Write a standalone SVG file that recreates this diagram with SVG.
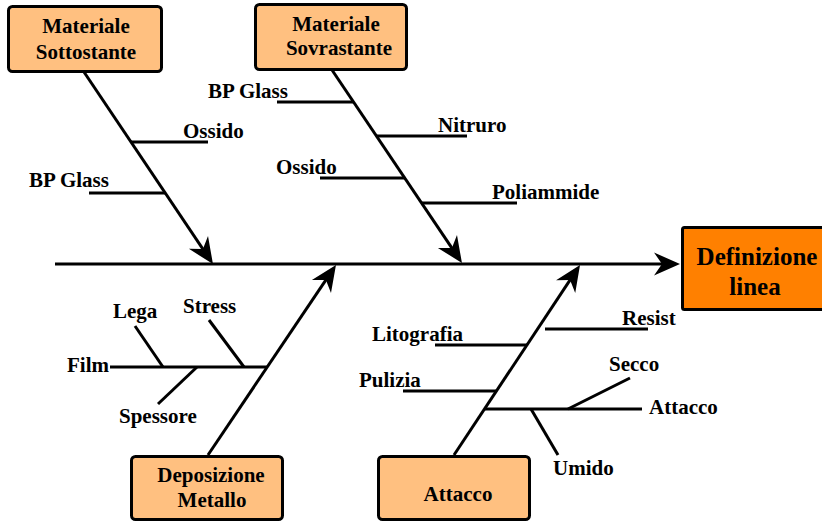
<svg xmlns="http://www.w3.org/2000/svg" width="822" height="521" viewBox="0 0 822 521">
<style>
.box{fill:#FFC080;stroke:#000;stroke-width:3}
.main{fill:#FF8000;stroke:#000;stroke-width:3}
.t{font-family:"Liberation Serif","Times New Roman",serif;font-weight:bold;font-size:21px;fill:#000}
.bt{text-anchor:middle}
.big{font-size:25px;text-anchor:middle}
.ln{stroke:#000;stroke-width:3;fill:none}
</style>
<defs>
<marker id="ah" markerUnits="userSpaceOnUse" markerWidth="40" markerHeight="30" viewBox="-20 -15 40 30" refX="0" refY="0" orient="auto" overflow="visible">
<path d="M8,0 L-18,-11.5 L-10,0 L-18,11.5 Z" fill="#000"/>
</marker>
</defs>
<rect width="822" height="521" fill="#fff"/>
<g id="connectors">
<line class="ln" x1="55" y1="264" x2="672" y2="264" marker-end="url(#ah)"/>
<line class="ln" x1="84" y1="72" x2="208.5" y2="257.4" marker-end="url(#ah)"/>
<line class="ln" x1="332" y1="70" x2="457.5" y2="256.4" marker-end="url(#ah)"/>
<line class="ln" x1="208" y1="455" x2="331.5" y2="271.6" marker-end="url(#ah)"/>
<line class="ln" x1="454" y1="455" x2="575.6" y2="271.7" marker-end="url(#ah)"/>
<line class="ln" x1="131" y1="142" x2="208" y2="142"/>
<line class="ln" x1="89" y1="193" x2="165" y2="193"/>
<line class="ln" x1="277" y1="102" x2="353" y2="102"/>
<line class="ln" x1="377" y1="136" x2="467" y2="136"/>
<line class="ln" x1="320" y1="178" x2="405" y2="178"/>
<line class="ln" x1="422" y1="203" x2="517" y2="203"/>
<line class="ln" x1="110" y1="367" x2="267" y2="367"/>
<line class="ln" x1="135" y1="326" x2="163" y2="367"/>
<line class="ln" x1="209" y1="320" x2="244" y2="367"/>
<line class="ln" x1="197" y1="367" x2="158" y2="404"/>
<line class="ln" x1="435" y1="345" x2="527" y2="345"/>
<line class="ln" x1="403" y1="391" x2="496" y2="391"/>
<line class="ln" x1="545" y1="329" x2="648" y2="329"/>
<line class="ln" x1="484" y1="409" x2="642" y2="409"/>
<line class="ln" x1="568" y1="409" x2="630" y2="378"/>
<line class="ln" x1="531" y1="409" x2="558" y2="455"/>
</g>
<g id="n-sottostante">
<rect class="box" x="8.5" y="6.5" width="153" height="65" rx="4"/>
<text class="t bt" x="86" y="33">Materiale</text>
<text class="t bt" x="86" y="59">Sottostante</text>
</g>
<g id="n-sovrastante">
<rect class="box" x="255.5" y="4.5" width="151" height="65" rx="4"/>
<text class="t bt" x="336" y="31">Materiale</text>
<text class="t bt" x="339" y="55">Sovrastante</text>
</g>
<g id="n-deposizione">
<rect class="box" x="131.5" y="456.5" width="151" height="63" rx="4"/>
<text class="t bt" x="211" y="482">Deposizione</text>
<text class="t bt" x="212" y="507">Metallo</text>
</g>
<g id="n-attacco">
<rect class="box" x="378.5" y="456.5" width="151" height="63" rx="4"/>
<text class="t bt" x="458" y="501">Attacco</text>
</g>
<g id="n-definizione">
<rect class="main" x="682.5" y="227.5" width="150" height="82" rx="2"/>
<text class="t big" x="757" y="265">Definizione</text>
<text class="t big" x="755" y="295">linea</text>
</g>
<g id="labels">
<text class="t" x="183" y="138">Ossido</text>
<text class="t" x="29" y="187">BP Glass</text>
<text class="t" x="208" y="98">BP Glass</text>
<text class="t" x="438" y="132">Nitruro</text>
<text class="t" x="276" y="174">Ossido</text>
<text class="t" x="492" y="199">Poliammide</text>
<text class="t" x="113" y="318">Lega</text>
<text class="t" x="183" y="313">Stress</text>
<text class="t" x="67" y="372">Film</text>
<text class="t" x="119" y="423">Spessore</text>
<text class="t" x="372" y="341">Litografia</text>
<text class="t" x="359" y="387">Pulizia</text>
<text class="t" x="622" y="325">Resist</text>
<text class="t" x="609" y="371">Secco</text>
<text class="t" x="649" y="414">Attacco</text>
<text class="t" x="553" y="475">Umido</text>
</g>
</svg>
